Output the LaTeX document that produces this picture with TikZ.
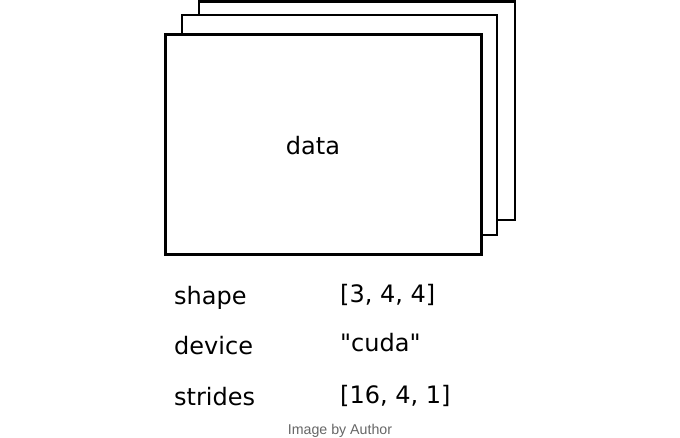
\documentclass[tikz,border=0pt]{standalone}
\usepackage{fontspec}
\setmainfont{DejaVu Sans}[Ligatures=TeXOff]
\newfontfamily\capfont{Liberation Sans}
\begin{document}
\begin{tikzpicture}[x=1pt,y=-1pt,
  sheet/.style={draw=black,line width=2.8pt,fill=white},
  lbl/.style={anchor=base west,inner sep=0pt,font=\fontsize{24}{28}\selectfont},
  captext/.style={anchor=base,inner sep=0pt,text=black!60,font=\capfont\fontsize{14.2}{16}\selectfont}]
\useasboundingbox (0,0) rectangle (680,438);
\draw[sheet] (199,1.5) rectangle (515,220) coordinate (back);
\draw[sheet] (182,15) rectangle (497,235) coordinate (mid);
\node[sheet,minimum width=316pt,minimum height=220pt,anchor=north west,inner sep=0pt] (front) at (164,33) {};
\node[anchor=center,inner sep=0pt,font=\fontsize{24}{28}\selectfont] (data) at (313,146) {data};
\node[lbl] (k1) at (174,305) {shape};
\node[lbl] (k2) at (174,354) {device};
\node[lbl] (k3) at (174,405) {strides};
\node[lbl] (v1) at (340,303) {[3, 4, 4]};
\node[lbl] (v2) at (340,352) {"cuda"};
\node[lbl] (v3) at (340,403) {[16, 4, 1]};
\node[captext] (c) at (340,434) {Image by Author};
\end{tikzpicture}
\end{document}
